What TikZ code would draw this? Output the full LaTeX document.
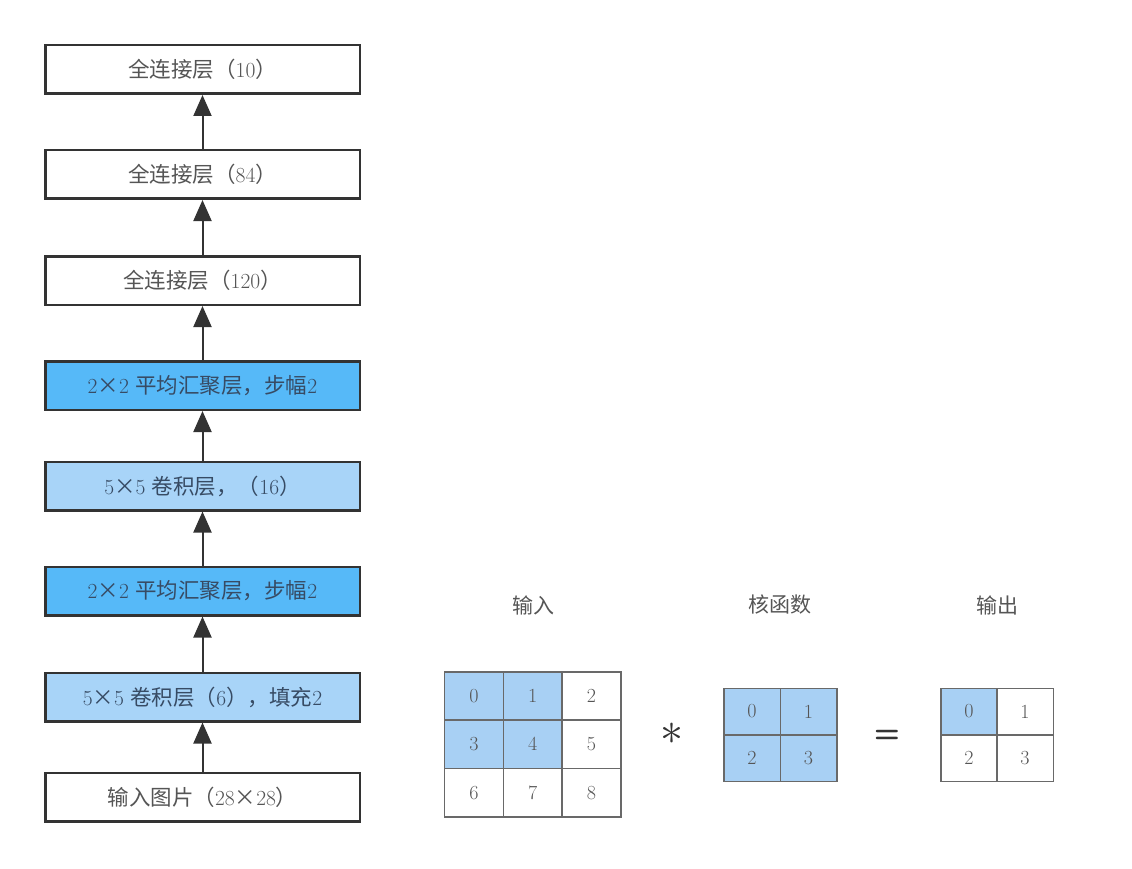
\documentclass[tikz,border=0pt]{standalone}
\usepackage{fontspec}
\newfontfamily\cjk{Noto Sans CJK SC}
\newcommand\zh[1]{{\cjk #1}}
\usetikzlibrary{arrows.meta}
\definecolor{poolblue}{RGB}{86,185,248}
\definecolor{convblue}{RGB}{168,212,248}
\definecolor{cellblue}{RGB}{168,208,244}
\definecolor{boxline}{RGB}{51,51,51}
\definecolor{txtgray}{RGB}{85,85,85}
\definecolor{bluetxt}{RGB}{55,75,100}
\definecolor{gridline}{RGB}{105,105,105}
\begin{document}
\begin{tikzpicture}[x=1pt,y=-1pt,
  layer/.style={draw=boxline, line width=2.5pt, minimum width=314.5pt, minimum height=48.5pt, inner sep=0pt, font=\fontsize{21.5}{21.5}\selectfont, text=txtgray, fill=white},
  pool/.style={layer, fill=poolblue, text=bluetxt},
  conv/.style={layer, fill=convblue, text=bluetxt},
  conn/.style={draw=boxline, line width=2pt, -{Triangle[length=21pt,width=18pt]}},
  cell/.style={draw=gridline, line width=1.5pt, inner sep=0pt, font=\fontsize{20}{20}\selectfont, text=txtgray},
  incell/.style={cell, minimum width=58.7pt, minimum height=48.3pt},
  kcell/.style={cell, minimum width=56.5pt, minimum height=46.5pt},
  hl/.style={fill=cellblue},
  lbl/.style={font=\fontsize{21}{21}\selectfont, text=txtgray}
]
\useasboundingbox (0,0) rectangle (1132,869);

% network column
\node[layer] (fc10)  at (202.5,69.5)  {\zh{全连接层（}10\zh{）}};
\node[layer] (fc84)  at (202.5,174.5) {\zh{全连接层（}84\zh{）}};
\node[layer] (fc120) at (202.5,280.5) {\zh{全连接层（}120\zh{）}};
\node[pool]  (pool2) at (202.5,385.5) {2\zh{×}2 \zh{平均汇聚层，步幅}2};
\node[conv]  (conv2) at (202.5,486)   {5\zh{×}5 \zh{卷积层，（}16\zh{）}};
\node[pool]  (pool1) at (202.5,591)   {2\zh{×}2 \zh{平均汇聚层，步幅}2};
\node[conv]  (conv1) at (202.5,697)   {5\zh{×}5 \zh{卷积层（}6\zh{），填充}2};
\node[layer] (inp)   at (202.5,797)   {\zh{输入图片（}28\zh{×}28\zh{）}};

\draw[conn] (inp.north) -- (conv1.south);
\draw[conn] (conv1.north) -- (pool1.south);
\draw[conn] (pool1.north) -- (conv2.south);
\draw[conn] (conv2.north) -- (pool2.south);
\draw[conn] (pool2.north) -- (fc120.south);
\draw[conn] (fc120.north) -- (fc84.south);
\draw[conn] (fc84.north) -- (fc10.south);

% labels
\node[lbl] (linput)  at (533,605) {\zh{输入}};
\node[lbl] (lkernel) at (780,605) {\zh{核函数}};
\node[lbl] (loutput) at (997,605) {\zh{输出}};

% input grid
\node[incell,hl] (i0) at (474,696)   {0};
\node[incell,hl] (i1) at (532.7,696) {1};
\node[incell]    (i2) at (591.4,696) {2};
\node[incell,hl] (i3) at (474,744.3)   {3};
\node[incell,hl] (i4) at (532.7,744.3) {4};
\node[incell]    (i5) at (591.4,744.3) {5};
\node[incell]    (i6) at (474,792.6)   {6};
\node[incell]    (i7) at (532.7,792.6) {7};
\node[incell]    (i8) at (591.4,792.6) {8};

% operator symbols
\node[text=boxline, inner sep=0pt] (star) at (672,734) {\scalebox{4.6}{$\ast$}};
\node[text=boxline, font=\fontsize{30}{30}\selectfont\sffamily\bfseries, inner sep=0pt] (eq) at (887,736) {=};

% kernel
\node[kcell,hl] (k0) at (752,711.5)  {0};
\node[kcell,hl] (k1) at (808.5,711.5) {1};
\node[kcell,hl] (k2) at (752,758)    {2};
\node[kcell,hl] (k3) at (808.5,758)  {3};

% output
\node[kcell,hl] (o0) at (969,711.5)  {0};
\node[kcell]    (o1) at (1025,711.5) {1};
\node[kcell]    (o2) at (969,758)    {2};
\node[kcell]    (o3) at (1025,758)   {3};
\end{tikzpicture}
\end{document}
